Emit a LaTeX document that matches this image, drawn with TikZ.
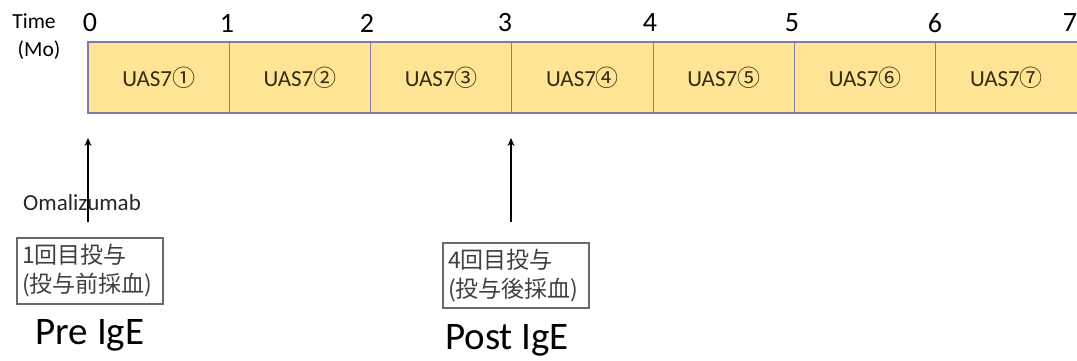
\documentclass[tikz,border=0pt]{standalone}
\usepackage{fontspec}
\setmainfont{Carlito}
\newfontfamily\jp{Noto Sans CJK JP}
\usetikzlibrary{arrows.meta}
\definecolor{cellfill}{RGB}{255,228,150}
\definecolor{cellline}{RGB}{125,125,165}
\definecolor{boxline}{RGB}{105,105,105}
\definecolor{celltext}{RGB}{50,45,15}
\begin{document}
\begin{tikzpicture}[x=1pt,y=-1pt,
  cell/.style={draw=cellline,fill=cellfill,line width=1.1pt,minimum width=141.3pt,minimum height=71pt,inner sep=0pt,font=\fontsize{23}{25}\selectfont,text=celltext},
  tick/.style={font=\fontsize{28}{30}\selectfont,inner sep=0pt},
  note/.style={draw=boxline,line width=1.3pt,inner sep=0pt,minimum width=146pt,align=left,text=black!75,font=\jp\fontsize{23}{29}\selectfont},
  big/.style={font=\fontsize{39}{41}\selectfont,inner sep=0pt},
  arr/.style={line width=2pt,-{Stealth[length=8pt,width=7pt]}}]
\useasboundingbox (0,0) rectangle (1077,360);
% cells
\foreach \i/\n in {1/①,2/②,3/③,4/④,5/⑤,6/⑥,7/⑦}{
  \node[cell] (c\i) at ({88+141.3*(\i-0.5)},77.5) {UAS7{\jp\n}};
}
% time labels
\node[font=\fontsize{21.5}{23}\selectfont,inner sep=0pt] (time) at (34,21) {Time};
\node[font=\fontsize{21.5}{23}\selectfont,inner sep=0pt] (mo) at (39,50) {(Mo)};
\node[tick] (t0) at (90,23) {0};
\node[tick] (t1) at (227,23) {1};
\node[tick] (t2) at (367,23) {2};
\node[tick] (t3) at (505,23) {3};
\node[tick] (t4) at (650,23) {4};
\node[tick] (t5) at (792,23) {5};
\node[tick] (t6) at (935,23) {6};
\node[tick] (t7) at (1070,23) {7};
% arrows
\coordinate (a1s) at (88,222);
\coordinate (a1e) at (88,138);
\coordinate (a2s) at (511,222);
\coordinate (a2e) at (511,138);
\draw[arr] (a1s) -- (a1e);
\draw[arr] (a2s) -- (a2e);
\node[font=\fontsize{23}{25}\selectfont,inner sep=0pt,text=black!85] (oma) at (82,203) {Omalizumab};
% boxes
\node[note,minimum height=66pt,text width=136pt] (b1) at (90,271) {1回目投与\\(投与前採血)};
\node[note,minimum height=65pt,text width=136pt] (b2) at (516,275.5) {4回目投与\\(投与後採血)};
% labels
\node[big] (pre) at (90,335) {Pre IgE};
\node[big] (post) at (507,340) {Post IgE};
\end{tikzpicture}
\end{document}
